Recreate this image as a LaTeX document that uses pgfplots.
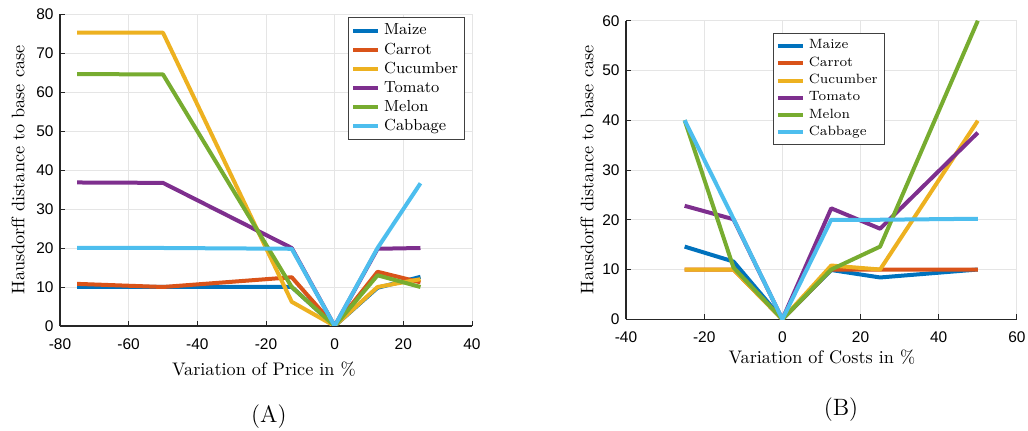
\documentclass[border=0pt]{standalone}
\usepackage{fontspec}
\usepackage{pgfplots}
\pgfplotsset{compat=1.18}
\newfontfamily\ticksf{Liberation Sans}

\definecolor{mBlue}{rgb}{0,0.447,0.741}
\definecolor{mRed}{rgb}{0.85,0.325,0.098}
\definecolor{mYellow}{rgb}{0.929,0.694,0.125}
\definecolor{mPurple}{rgb}{0.494,0.184,0.556}
\definecolor{mGreen}{rgb}{0.466,0.674,0.188}
\definecolor{mCyan}{rgb}{0.301,0.745,0.933}
\definecolor{axgray}{rgb}{0.15,0.15,0.15}

\pgfplotsset{
  matlab/.style={
    scale only axis,
    clip mode=individual,
    axis lines*=left,
    axis line style={axgray, line width=0.6pt},
    tick align=inside,
    major tick length=3pt,
    tick style={axgray, line width=0.5pt},
    grid=major,
    grid style={black!10, line width=0.5pt},
    tick label style={font=\fontsize{8.5}{10}\ticksf},
    xticklabel style={yshift=-3.5pt},
    label style={font=\fontsize{10}{12}\selectfont},
    every axis plot/.append style={line width=2.2pt, line join=round},
    legend cell align=left,
    legend image code/.code={\draw[##1] (0pt,0pt) -- (14pt,0pt);},
  }
}

\begin{document}
\begin{tikzpicture}
\useasboundingbox (-33pt,-57.75pt) rectangle (532.4pt,179.3pt);

% ---------- (A) price ----------
\begin{axis}[matlab,
  at={(0pt,0pt)}, anchor=south west,
  width=226.6pt, height=171.6pt,
  xmin=-80, xmax=40, ymin=0, ymax=80,
  xtick={-80,-60,-40,-20,0,20,40},
  xticklabels={-80,-60,-40,-20,0,20,40},
  ytick={0,10,20,30,40,50,60,70,80},
  yticklabels={0,10,20,30,40,50,60,70,80},
  xlabel={Variation of Price in \%},
  ylabel={Hausdorff distance to base case},
  xlabel style={at={(axis description cs:0.495,-0.138)}, anchor=center},
  ylabel style={at={(axis description cs:-0.102,0.5)}, anchor=center},
  legend style={at={(0.983,0.990)}, anchor=north east, draw=black!75,
    line width=0.5pt, fill=white, font=\fontsize{8.8}{10}\selectfont,
    row sep=-1.1pt, inner sep=1.5pt},
]
\addplot[mBlue] coordinates {(-75,10) (-50,10) (-12.5,10) (0,0) (12.5,9.8) (25,12.6)};
\addlegendentry{Maize}
\addplot[mRed] coordinates {(-75,10.8) (-50,10) (-12.5,12.5) (0,0) (12.5,13.9) (25,11.2)};
\addlegendentry{Carrot}
\addplot[mYellow] coordinates {(-75,75.2) (-50,75.2) (-12.5,6.2) (0,0) (12.5,10) (25,12)};
\addlegendentry{Cucumber}
\addplot[mPurple] coordinates {(-75,36.8) (-50,36.7) (-12.5,20) (0,0) (12.5,19.8) (25,20)};
\addlegendentry{Tomato}
\addplot[mGreen] coordinates {(-75,64.6) (-50,64.5) (-12.5,10) (0,0) (12.5,13) (25,10)};
\addlegendentry{Melon}
\addplot[mCyan] coordinates {(-75,20) (-50,20) (-12.5,19.8) (0,0) (12.5,20) (25,36.6)};
\addlegendentry{Cabbage}
\node[font=\fontsize{13}{15}\selectfont] at (axis description cs:0.507,-0.29) {(A)};
\end{axis}

% ---------- (B) costs ----------
\begin{axis}[matlab,
  at={(311.3pt,3.7pt)}, anchor=south west,
  width=215pt, height=164.2pt,
  xmin=-40, xmax=60, ymin=0, ymax=60,
  xtick={-40,-20,0,20,40,60},
  xticklabels={-40,-20,0,20,40,60},
  ytick={0,10,20,30,40,50,60},
  yticklabels={0,10,20,30,40,50,60},
  xlabel={Variation of Costs in \%},
  ylabel={Hausdorff distance to base case},
  xlabel style={at={(axis description cs:0.501,-0.126)}, anchor=center},
  ylabel style={at={(axis description cs:-0.0997,0.5)}, anchor=center},
  legend style={at={(0.375,0.959)}, anchor=north west, draw=black!75,
    line width=0.5pt, fill=white, font=\fontsize{7.4}{9}\selectfont,
    row sep=-1.1pt, inner sep=1.5pt},
]
\addplot[mBlue] coordinates {(-25,14.6) (-12.5,11.6) (0,0) (12.5,9.9) (25,8.4) (50,10)};
\addlegendentry{Maize}
\addplot[mRed] coordinates {(-25,10) (-12.5,10) (0,0) (12.5,10) (25,10) (50,10)};
\addlegendentry{Carrot}
\addplot[mYellow] coordinates {(-25,10) (-12.5,10) (0,0) (12.5,10.8) (25,10) (50,39.9)};
\addlegendentry{Cucumber}
\addplot[mPurple] coordinates {(-25,22.8) (-12.5,20.1) (0,0) (12.5,22.3) (25,18.2) (50,37.5)};
\addlegendentry{Tomato}
\addplot[mGreen] coordinates {(-25,40) (-12.5,10.4) (0,0) (12.5,10) (25,14.6) (50,60)};
\addlegendentry{Melon}
\addplot[mCyan] coordinates {(-25,40) (-12.5,20.2) (0,0) (12.5,20) (25,20) (50,20.2)};
\addlegendentry{Cabbage}
\node[font=\fontsize{13}{15}\selectfont] at (axis description cs:0.55,-0.304) {(B)};
\end{axis}
\end{tikzpicture}
\end{document}
